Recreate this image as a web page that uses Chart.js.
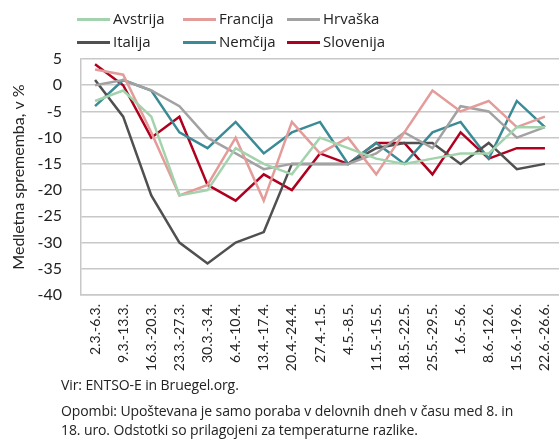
<!DOCTYPE html>
<html>
<head>
<meta charset="utf-8">
<script src="https://cdn.jsdelivr.net/npm/chart.js@4"></script>
<style>
  body { margin: 0; background: #fff; font-family: "Open Sans", sans-serif; }
  #wrap { position: relative; width: 559px; height: 439px; }
  #c { position: absolute; left: 0; top: 0; }
  .leg { position: absolute; font-size: 15px; color: #222; white-space: nowrap; line-height: 20px; }
  .leg span.ln { display: inline-block; width: 33px; height: 3px; vertical-align: middle; margin-right: 3px; }
  .note { position: absolute; left: 61px; font-size: 14px; color: #222; white-space: nowrap; letter-spacing: -0.1px; }
</style>
</head>
<body>
<div id="wrap">
  <canvas id="c" width="559" height="439"></canvas>
  <div id="legend"></div>
  <div class="note" style="top:375px">Vir: ENTSO-E in Bruegel.org.</div>
  <div class="note" style="top:401px">Opombi: Upoštevana je samo poraba v delovnih dneh v času med 8. in</div>
  <div class="note" style="top:420px">18. uro. Odstotki so prilagojeni za temperaturne razlike.</div>
</div>
<script>
const weeks = ["2.3.-6.3.", "9.3.-13.3.", "16.3.-20.3.", "23.3.-27.3.", "30.3.-3.4.", "6.4.-10.4.", "13.4.-17.4.", "20.4.-24.4.", "27.4.-1.5.", "4.5.-8.5.", "11.5.-15.5.", "18.5.-22.5.", "25.5.-29.5.", "1.6.-5.6.", "8.6.-12.6.", "15.6.-19.6.", "22.6.-26.6."];

const avstrija  = [-3, -1, -6, -21, -20, -12, -15, -17, -10, -12, -14, -15, -14, -13, -13, -8, -8];
const francija  = [3, 2, -9, -21, -19, -10, -22, -7, -13, -10, -17, -9, -1, -5, -3, -8, -6];
const hrvaska   = [0, 1, -1, -4, -10, -13, -16, -15, -15, -15, -13, -9, -12, -4, -5, -10, -8];
const italija   = [1, -6, -21, -30, -34, -30, -28, -15, -15, -15, -12, -11, -11, -15, -11, -16, -15];
const nemcija   = [-4, 1, -1, -9, -12, -7, -13, -9, -7, -15, -11, -15, -9, -7, -14, -3, -8];
const slovenija = [4, 0, -10, -6, -19, -22, -17, -20, -13, -15, -11, -11, -17, -9, -14, -12, -12];

const series = [
  { label: "Avstrija", data: avstrija, color: "#a3d3ac" },
  { label: "Francija", data: francija, color: "#e39c9a" },
  { label: "Hrvaška", data: hrvaska, color: "#a2a2a2" },
  { label: "Italija", data: italija, color: "#505050" },
  { label: "Nemčija", data: nemcija, color: "#3a8b95" },
  { label: "Slovenija", data: slovenija, color: "#b0001f" }
];

// legenda: 3 stolpci, 2 vrstici
const legX = [77, 183, 287];
const legY = [8, 31];
series.forEach((s, i) => {
  const d = document.createElement("div");
  d.className = "leg";
  d.style.left = legX[i % 3] + "px";
  d.style.top = legY[Math.floor(i / 3)] + "px";
  d.innerHTML = '<span class="ln" style="background:' + s.color + '"></span>' + s.label;
  document.getElementById("legend").appendChild(d);
});

const datasets = series.map(s => ({
  label: s.label,
  data: s.data,
  borderColor: s.color,
  backgroundColor: s.color,
  borderWidth: 2.5,
  pointRadius: 0,
  tension: 0,
  fill: false
}));

Chart.defaults.font.family = "Lato, sans-serif";
Chart.defaults.color = "#222";

new Chart(document.getElementById("c"), {
  type: "line",
  data: { labels: weeks, datasets: datasets },
  options: {
    responsive: false,
    animation: false,
    layout: { padding: { top: 59, left: 0, right: 0, bottom: 0 } },
    plugins: { legend: { display: false }, tooltip: { enabled: false } },
    scales: {
      x: {
        offset: true,
        grid: { display: false, drawTicks: false },
        border: { display: true, color: "#c8c8c8", width: 1.5 },
        ticks: { minRotation: 90, maxRotation: 90, autoSkip: false, padding: 9, font: { size: 14 } },
        afterFit: s => { s.height = 144; s.paddingRight = 0; s.paddingLeft = 0; }
      },
      y: {
        min: -40,
        max: 5,
        ticks: { stepSize: 5, padding: 19, font: { size: 16 } },
        grid: { color: "#c8c8c8", lineWidth: 1.5, drawTicks: false },
        border: { display: true, color: "#c8c8c8", width: 1.5 },
        title: { display: true, text: "Medletna sprememba, v %", font: { size: 16 }, padding: { top: 9, bottom: 0 } },
        afterFit: s => { s.width = 81; }
      }
    }
  }
});
</script>
</body>
</html>
